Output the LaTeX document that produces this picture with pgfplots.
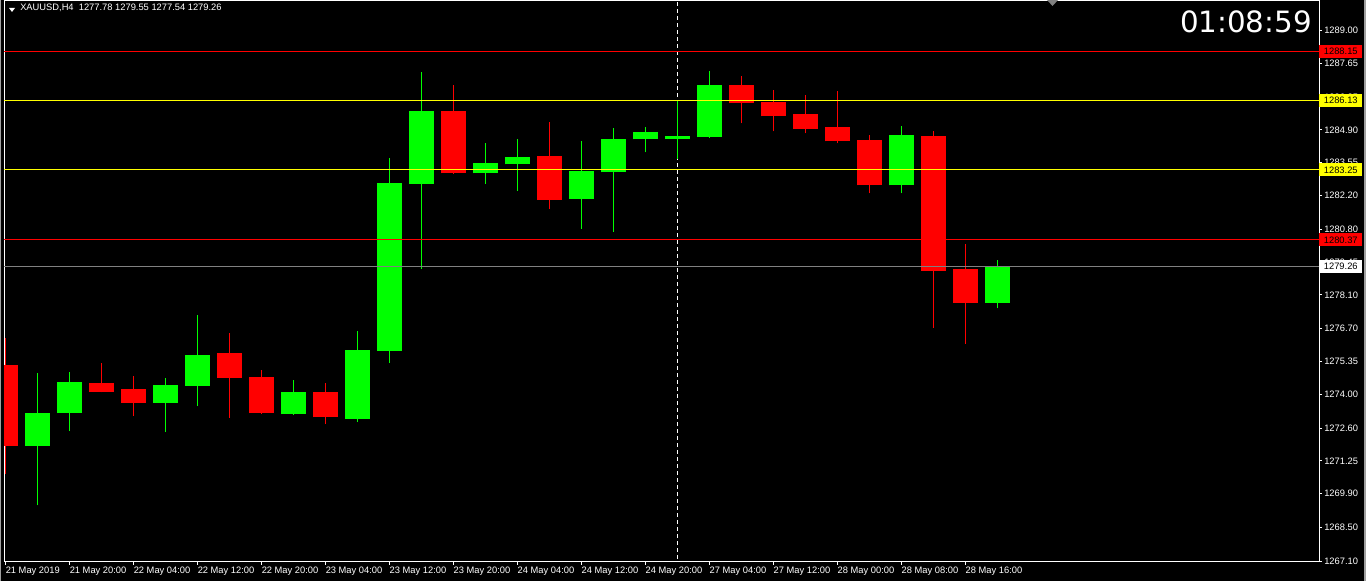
\documentclass[border=0pt]{standalone}
\usepackage{fontspec}
\setmainfont{Liberation Sans}
\newfontfamily\clockfont{DejaVu Sans}
\usepackage{pgfplots}
\pgfplotsset{compat=1.18}
\usepackage{pgfplotstable}

\definecolor{cgreen}{HTML}{00FF00}
\definecolor{cred}{HTML}{FF0000}
\definecolor{cyel}{HTML}{FFFF00}
\definecolor{cgray}{HTML}{808080}
\definecolor{cframe}{HTML}{A0A0A0}
\newcommand\axfont{\fontsize{7pt}{8pt}\selectfont}

% bullish candles (close > open)
\pgfplotstableread{
x open high low close
1 1271.86 1274.88 1269.42 1273.22
2 1273.22 1274.92 1272.48 1274.50
5 1273.64 1274.67 1272.44 1274.38
6 1274.34 1277.28 1273.51 1275.62
9 1273.18 1274.59 1273.16 1274.09
11 1272.97 1276.61 1272.85 1275.83
12 1275.79 1283.73 1275.29 1282.73
13 1282.69 1287.28 1279.18 1285.67
15 1283.11 1284.35 1282.69 1283.52
16 1283.48 1284.51 1282.40 1283.77
18 1282.07 1284.43 1280.83 1283.19
19 1283.15 1284.97 1280.71 1284.51
20 1284.51 1285.01 1283.98 1284.80
21 1284.52 1286.13 1283.72 1284.64
22 1284.60 1287.33 1284.58 1286.75
28 1282.61 1285.05 1282.28 1284.68
31 1277.78 1279.55 1277.54 1279.26
}\bull

% bearish candles (close < open)
\pgfplotstableread{
x open high low close
0 1275.21 1276.32 1270.70 1271.86
3 1274.46 1275.29 1274.08 1274.09
4 1274.22 1274.75 1273.10 1273.64
7 1275.70 1276.53 1273.02 1274.67
8 1274.71 1275.00 1273.20 1273.22
10 1274.09 1274.46 1272.77 1273.06
14 1285.67 1286.75 1283.10 1283.11
17 1283.81 1285.22 1281.66 1282.03
23 1286.75 1287.12 1285.17 1286.00
24 1286.04 1286.54 1284.84 1285.46
25 1285.55 1286.33 1284.76 1284.93
26 1285.01 1286.50 1284.35 1284.43
27 1284.47 1284.68 1282.28 1282.61
29 1284.64 1284.84 1276.74 1279.10
30 1279.18 1280.21 1276.08 1277.78
}\bear

\begin{document}
\begin{tikzpicture}[x=1pt,y=1pt]
\path[use as bounding box] (0,0) rectangle (1024.5,435.75);
\fill[black] (0,0) rectangle (1024.5,435.75);
\fill[cframe] (0,0) rectangle (1.1,435.75);
\fill[cframe] (1023,0) rectangle (1024.5,435.75);
\begin{axis}[
  at={(3pt,14.25pt)}, anchor=south west,
  scale only axis, width=986.25pt, height=420.75pt,
  xmin=-0.047, xmax=41.05, ymin=1267.08, ymax=1290.22,
  axis line style={white, line width=0.75pt},
  tick style={white, line width=0.75pt},
  tick align=outside, major tick length=2.25pt,
  xtick pos=bottom, ytick pos=right, yticklabel pos=right,
  xtick={0,2,...,30},
  xticklabels={21 May 2019,21 May 20:00,22 May 04:00,22 May 12:00,22 May 20:00,23 May 04:00,23 May 12:00,23 May 20:00,24 May 04:00,24 May 12:00,24 May 20:00,27 May 04:00,27 May 12:00,28 May 00:00,28 May 08:00,28 May 16:00},
  ytick={1267.10,1268.50,1269.90,1271.25,1272.60,1274.00,1275.35,1276.70,1278.10,1279.45,1280.80,1282.20,1283.55,1284.90,1286.25,1287.65,1289.00},
  yticklabels={1267.10,1268.50,1269.90,1271.25,1272.60,1274.00,1275.35,1276.70,1278.10,1279.45,1280.80,1282.20,1283.55,1284.90,1286.25,1287.65,1289.00},
  xticklabel style={font=\axfont, text=white, anchor=north west, inner sep=0pt, yshift=-1.5pt},
  yticklabel style={font=\axfont, text=white, anchor=west, inner sep=0pt, xshift=1.5pt},
]
% crosshair / period separator
\addplot[white, line width=0.75pt, dash pattern=on 3pt off 2.25pt] coordinates {(21,1260) (21,1300)};
% wicks
\addplot[draw=none, mark=none, forget plot, error bars/.cd, y dir=plus, y explicit, error mark=none,
  error bar style={draw=cgreen, line width=0.75pt}]
  table[x=x, y=low, y error plus expr=\thisrow{high}-\thisrow{low}] {\bull};
\addplot[draw=none, mark=none, forget plot, error bars/.cd, y dir=plus, y explicit, error mark=none,
  error bar style={draw=cred, line width=0.75pt}]
  table[x=x, y=low, y error plus expr=\thisrow{high}-\thisrow{low}] {\bear};
% bodies
\addplot[draw=none, mark=none, forget plot, error bars/.cd, y dir=plus, y explicit, error mark=none,
  error bar style={draw=cgreen, line width=18.75pt}]
  table[x=x, y=open, y error plus expr=\thisrow{close}-\thisrow{open}] {\bull};
\addplot[draw=none, mark=none, forget plot, error bars/.cd, y dir=plus, y explicit, error mark=none,
  error bar style={draw=cred, line width=18.75pt}]
  table[x=x, y=close, y error plus expr=\thisrow{open}-\thisrow{close}] {\bear};
% horizontal levels
\addplot[cred, line width=0.75pt] coordinates {(-1,1288.15) (42,1288.15)};
\addplot[cyel, line width=0.75pt] coordinates {(-1,1286.13) (42,1286.13)};
\addplot[cyel, line width=0.75pt] coordinates {(-1,1283.25) (42,1283.25)};
\addplot[cred, line width=0.75pt] coordinates {(-1,1280.37) (42,1280.37)};
\addplot[cgray, line width=0.75pt] coordinates {(-1,1279.26) (42,1279.26)};
\coordinate (l1) at (axis cs:41.05,1288.15);
\coordinate (l2) at (axis cs:41.05,1286.13);
\coordinate (l3) at (axis cs:41.05,1283.25);
\coordinate (l4) at (axis cs:41.05,1280.37);
\coordinate (l5) at (axis cs:41.05,1279.26);
\end{axis}
\tikzset{pl/.style={anchor=west, inner sep=0pt, minimum width=32.25pt, minimum height=9.75pt, font=\axfont, text=black}}
\node[pl, fill=cred] at (l1) {1288.15};
\node[pl, fill=cyel] at (l2) {1286.13};
\node[pl, fill=cyel] at (l3) {1283.25};
\node[pl, fill=cred] at (l4) {1280.37};
\node[pl, fill=white] at (l5) {1279.26};
% header
\fill[white] (6.75,429.75) -- (11.25,429.75) -- (9,426.75) -- cycle;
\node[anchor=base west, inner sep=0pt, font=\axfont, text=white] at (15,427.5) {XAUUSD,H4\ \ 1277.78 1279.55 1277.54 1279.26};
% chart shift marker
\fill[cgray] (785.25,435.75) -- (793.5,435.75) -- (789.4,431.25) -- cycle;
% clock
\node[anchor=base east, inner sep=0pt, text=white, font=\clockfont\fontsize{22pt}{22pt}\selectfont] at (984,411) {01:08:59};
\end{tikzpicture}
\end{document}
